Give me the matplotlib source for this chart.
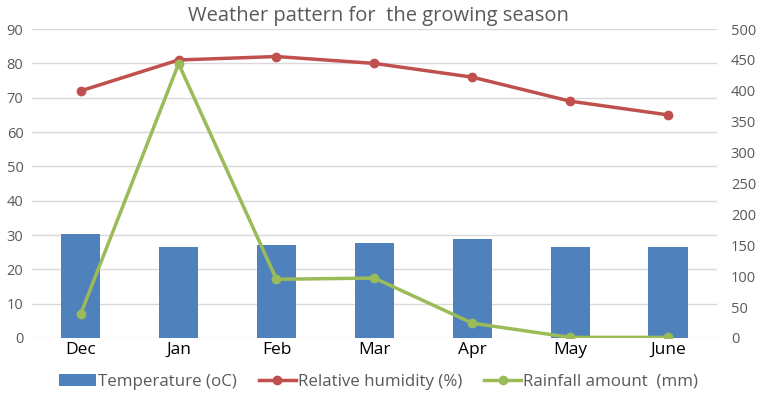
import matplotlib.pyplot as plt
import numpy as np

plt.rcParams['font.family'] = ['Open Sans', 'DejaVu Sans']

months = ['Dec', 'Jan', 'Feb', 'Mar', 'Apr', 'May', 'June']
temperature = [30.3, 26.6, 27.1, 27.8, 28.9, 26.6, 26.5]
humidity = [72, 81, 82, 80, 76, 69, 65]
rainfall = [39, 444, 95, 97, 24, 1, 1]

x = np.arange(len(months))

fig = plt.figure(figsize=(7.57, 3.93), dpi=100)
ax = fig.add_axes([0.042, 0.14, 0.905, 0.786])
ax2 = ax.twinx()

ax.set_zorder(1)
ax.patch.set_visible(False)
ax2.set_zorder(0)

# gridlines on the left axis
ax.set_ylim(0, 90)
ax.set_yticks(range(0, 91, 10))
ax.grid(axis='y', color='#d9d9d9', linewidth=1)
ax.set_axisbelow(True)

bars = ax.bar(x, temperature, width=0.4, color='#4f81bd', label='Temperature (oC)', zorder=2)
l1, = ax.plot(x, humidity, color='#c0504d', linewidth=2.5, marker='o', markersize=6,
              label='Relative humidity (%)', zorder=3)

ax2.set_ylim(0, 500)
ax2.set_yticks(range(0, 501, 50))
# rainfall is drawn on the right scale (0-500), mapped onto the left axis
l2, = ax.plot(x, np.array(rainfall) * 90 / 500, color='#9bbb59', linewidth=2.5, marker='o',
              markersize=6, label='Rainfall amount  (mm)', zorder=4)

ax.set_xlim(-0.5, len(months) - 0.5)
ax.set_xticks(x)
ax.set_xticklabels(months)

for a in (ax, ax2):
    for s in a.spines.values():
        s.set_visible(False)
    a.tick_params(length=0, labelsize=10.5, labelcolor='#595959')
ax.tick_params(axis='x', labelsize=12.5, labelcolor='black', pad=3)
ax.tick_params(axis='y', pad=6)
ax2.tick_params(axis='y', pad=10)

fig.suptitle('Weather pattern for  the growing season', x=0.5, y=0.985, fontsize=14.5, color='#595959')

fig.legend(handles=[bars, l1, l2], loc='lower center', bbox_to_anchor=(0.5, -0.03), ncol=3,
           frameon=False, fontsize=12.2, labelcolor='#595959', handlelength=2.2,
           handletextpad=0.1, columnspacing=1.3)

fig.savefig('out.png', dpi=100)
